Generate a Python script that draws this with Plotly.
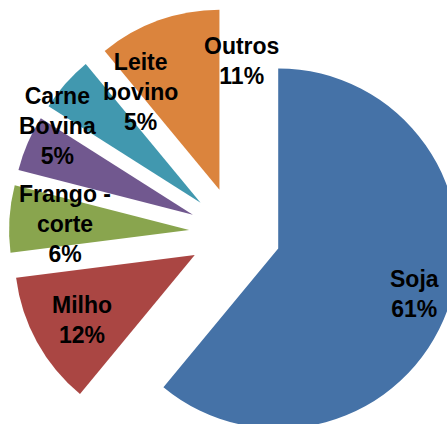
import plotly.graph_objects as go

# Pie data
categories = ["Soja", "Milho", "Frango - corte", "Carne Bovina", "Leite bovino", "Outros"]
shares = [61, 12, 6, 5, 5, 11]
label_lines = ["Soja", "Milho", "Frango -<br>corte", "Carne<br>Bovina", "Leite<br>bovino", "Outros"]
colors = ["#4572A7", "#AA4643", "#89A54E", "#71588F", "#4198AF", "#DB843D"]

# label centres in pixels (x, y from top of the picture)
label_pos = [(414, 294), (82, 320), (65, 224), (57, 126), (140, 92), (241, 61)]

W, H = 470, 470
ML, MR, MT, MB = 9, 9, 7, 11
PW, PH = W - ML - MR, H - MT - MB

fig = go.Figure(go.Pie(
    labels=categories,
    values=shares,
    sort=False,
    direction="clockwise",
    rotation=0,
    pull=[0.255] * len(shares),
    marker=dict(colors=colors, line=dict(width=0)),
    textinfo="none",
    hoverinfo="label+percent",
    showlegend=False,
))

total = sum(shares)
for txt, v, (px, py) in zip(label_lines, shares, label_pos):
    fig.add_annotation(
        text=f"{txt}<br>{round(100 * v / total)}%",
        x=(px - ML) / PW, y=1 - (py - MT) / PH,
        xref="paper", yref="paper",
        xanchor="center", yanchor="middle",
        showarrow=False,
        font=dict(family="Liberation Sans", size=23, color="black", weight="bold"),
    )

fig.update_layout(
    width=W, height=H,
    margin=dict(l=ML, r=MR, t=MT, b=MB),
    paper_bgcolor="white",
    plot_bgcolor="white",
)

fig.write_html(
    "out.html",
    config={"displayModeBar": False},
    post_script="document.body.style.margin='0';document.body.style.overflow='hidden';",
)
